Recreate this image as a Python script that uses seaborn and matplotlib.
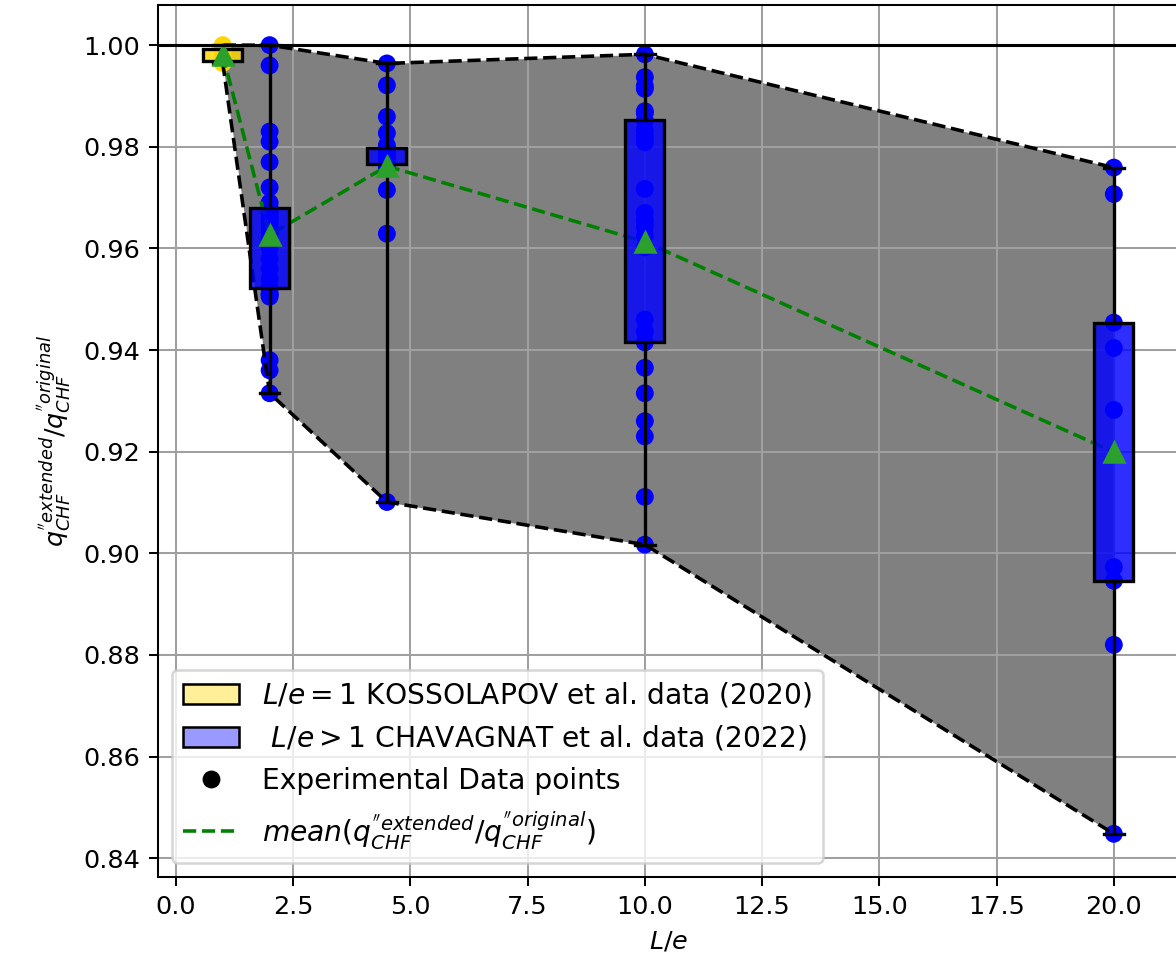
import numpy as np
import pandas as pd
import matplotlib
matplotlib.use("Agg")
import matplotlib.pyplot as plt
import seaborn as sns
from matplotlib.patches import Patch
from matplotlib.lines import Line2D

# ---- data ----
L_E = [1, 2, 4.5, 10, 20]

RATIO_LE1 = [0.9965, 0.9968, 0.9980, 0.9992, 1.0000]
RATIO_LE2 = [0.9315, 0.9360, 0.9380, 0.9505, 0.9510, 0.9510, 0.9520, 0.9523,
             0.9540, 0.9560, 0.9580, 0.9600, 0.9610, 0.9620, 0.9630, 0.9640,
             0.9650, 0.9660, 0.9660, 0.9670, 0.9670, 0.9680, 0.9690, 0.9720,
             0.9770, 0.9810, 0.9830, 0.9960, 1.0000]
RATIO_LE45 = [0.9101, 0.9629, 0.9715, 0.9760, 0.9763, 0.9766, 0.9775, 0.9780,
              0.9785, 0.9788, 0.9790, 0.9792, 0.9794, 0.9795, 0.9796, 0.9797,
              0.9803, 0.9827, 0.9859, 0.9921, 0.9964]
RATIO_LE10 = [0.9017, 0.9111, 0.9230, 0.9260, 0.9315, 0.9365, 0.9415, 0.9436,
              0.9460, 0.9602, 0.9625, 0.9643, 0.9655, 0.9670, 0.9717, 0.9809,
              0.9820, 0.9833, 0.9852, 0.9866, 0.9870, 0.9914, 0.9920, 0.9937,
              0.9982]
RATIO_LE20 = [0.8448, 0.8820, 0.8946, 0.8973, 0.9282, 0.9404, 0.9454, 0.9707,
              0.9759]

SOURCES = ['KOSSOLAPOV', 'CHAVAGNAT', 'CHAVAGNAT', 'CHAVAGNAT', 'CHAVAGNAT']
PALETTE = {'KOSSOLAPOV': 'gold', 'CHAVAGNAT': 'blue'}

rows = []
for le, src, vals in zip(L_E, SOURCES,
                         [RATIO_LE1, RATIO_LE2, RATIO_LE45, RATIO_LE10, RATIO_LE20]):
    for v in vals:
        rows.append({'L_e': le, 'ratio': v, 'source': src})
df = pd.DataFrame(rows)

stats = df.groupby('L_e')['ratio'].agg(['min', 'max', 'mean']).reset_index()

# ---- figure ----
DPI = 183.75
fig = plt.figure(figsize=(1176 / DPI, 959 / DPI), dpi=DPI)
ax = fig.add_axes([158 / 1176, 1 - 877 / 959, 1021.5 / 1176, 872 / 959])

# envelope between min and max of each group
ax.fill_between(stats['L_e'], stats['min'], stats['max'], color='gray', lw=0, zorder=1)
sns.lineplot(data=stats, x='L_e', y='max', color='k', linestyle='--', lw=1.4, ax=ax, zorder=1.9)
sns.lineplot(data=stats, x='L_e', y='min', color='k', linestyle='--', lw=1.4, ax=ax, zorder=1.9)
sns.lineplot(data=stats, x='L_e', y='mean', color='green', linestyle='--', lw=1.4, ax=ax, zorder=1.9)

# experimental points
sns.stripplot(data=df, x='L_e', y='ratio', hue='source', palette=PALETTE,
              native_scale=True, jitter=False, size=7, linewidth=0,
              legend=False, zorder=1.8, ax=ax)

# boxes
sns.boxplot(data=df, x='L_e', y='ratio', hue='source', palette=PALETTE,
            native_scale=True, dodge=False, width=0.83, whis=(0, 100),
            showfliers=False, showmeans=True, saturation=1,
            meanprops=dict(marker='^', markerfacecolor='#2ca02c',
                           markeredgecolor='#2ca02c', markersize=7.5),
            medianprops=dict(visible=False),
            linecolor='k', linewidth=1.3, legend=False, ax=ax)
for p in ax.patches:
    fc = p.get_facecolor()
    p.set_facecolor((fc[0], fc[1], fc[2], 0.82))

ax.axhline(1.0, color='k', lw=1.2, zorder=2.5)
ax.grid(True, color='#a0a0a0', lw=0.8)

ax.set_xlim(-0.38, 21.4)
ax.set_ylim(0.8363, 1.0079)
ax.set_xticks(np.arange(0, 20.1, 2.5))
ax.set_yticks(np.arange(0.84, 1.001, 0.02))
ax.yaxis.set_major_formatter(matplotlib.ticker.FormatStrFormatter('%.2f'))
ax.xaxis.set_major_formatter(matplotlib.ticker.FormatStrFormatter('%.1f'))

ax.set_xlabel('$L/e$')
ax.set_ylabel(r"$q^{''extended}_{CHF}/q^{''original}_{CHF}$")

handles = [
    Patch(facecolor=(1, 0.843, 0, 0.4), edgecolor='k', label='$L/e = 1$ KOSSOLAPOV et al. data (2020)'),
    Patch(facecolor=(0, 0, 1, 0.4), edgecolor='k', label=' $L/e > 1$ CHAVAGNAT et al. data (2022)'),
    Line2D([], [], marker='o', color='k', ls='none', markersize=6, label='Experimental Data points'),
    Line2D([], [], color='green', ls='--', lw=1.4,
           label=r"$mean(q^{''extended}_{CHF}/q^{''original}_{CHF})$"),
]
ax.legend(handles=handles, loc='lower left', fontsize=11)

fig.savefig('out.png', dpi=DPI)
